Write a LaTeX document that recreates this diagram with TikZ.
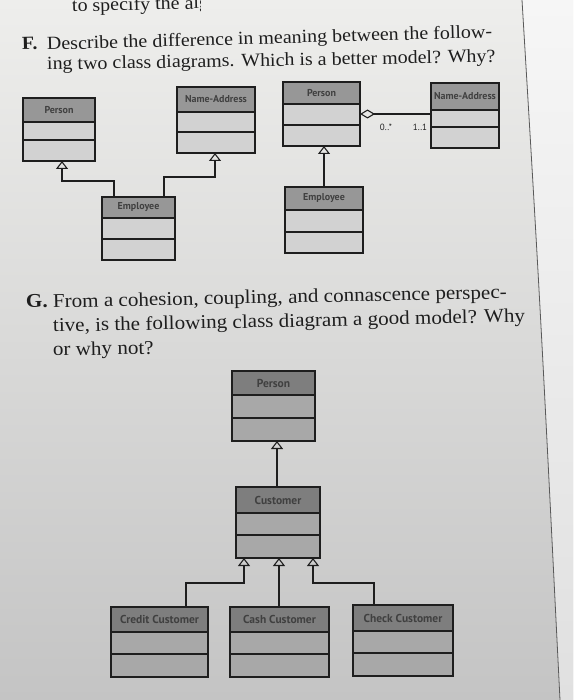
\documentclass[tikz,border=0pt]{standalone}
\usepackage{fontspec}
\setmainfont{Liberation Serif}[FakeStretch=1.08]
\newfontfamily\lblfont{PT Sans}
\usetikzlibrary{arrows.meta}
\definecolor{paperTop}{HTML}{EEEEEC}
\definecolor{paperBot}{HTML}{C4C4C4}
\definecolor{stripTop}{HTML}{F6F6F6}
\definecolor{stripBot}{HTML}{E0E0E0}
\definecolor{inkC}{HTML}{1E1E1E}
\definecolor{hdrF}{HTML}{979797}
\definecolor{bodyF}{HTML}{D2D2D2}
\definecolor{hdrG}{HTML}{7E7E7E}
\definecolor{bodyG}{HTML}{A8A8A8}
\tikzset{
  boxline/.style={draw=inkC, line width=1.3pt},
  classbox/.style={boxline, rectangle, inner sep=0pt, outer sep=0pt},
  clslabelF/.style={font=\lblfont\bfseries\fontsize{10}{11}\selectfont, text=inkC!85, inner sep=0pt},
  clslabelG/.style={font=\lblfont\bfseries\fontsize{11.5}{13}\selectfont, text=inkC!85, inner sep=0pt},
  multlabel/.style={font=\lblfont\fontsize{9}{10}\selectfont, text=inkC, inner sep=0pt},
  gen/.style={draw=inkC, line width=1.2pt, -{Triangle[open, length=8pt, width=12pt, line width=1.1pt]}},
  agg/.style={draw=inkC, line width=1.2pt, {Diamond[open, length=15pt, width=9pt, line width=1.1pt]}-},
  qtextF/.style={font=\fontsize{18.5}{22}\selectfont, text=inkC, inner sep=0pt, anchor=base west},
  qtextG/.style={font=\fontsize{19.5}{24}\selectfont, text=inkC, inner sep=0pt, anchor=base west},
}
% #1 name, #2 x1, #3 y1, #4 x2, #5 y2, #6 first divider, #7 second divider, #8 label, #9 colour set
\newcommand\umlbox[9]{%
  \fill[hdr#9] (#2,#3) rectangle (#4,#6);
  \fill[body#9] (#2,#6) rectangle (#4,#5);
  \draw[boxline] (#2,#6) -- (#4,#6) (#2,#7) -- (#4,#7);
  \node[classbox, minimum width={(#4-#2)*1pt}, minimum height={(#5-#3)*1pt}] (#1) at ({(#2+#4)/2},{(#3+#5)/2}) {};
  \node[clslabel#9] (#1-lbl) at ({(#2+#4)/2},{(#3+#6)/2}) {#8};
}
\begin{document}
\begin{tikzpicture}[x=1pt, y=-1pt]
\useasboundingbox (0,0) rectangle (573,700);
% paper
\shade[top color=paperTop, bottom color=paperBot] (0,0) rectangle (573,700);
\shade[top color=stripTop, bottom color=stripBot] (522,0) .. controls (540,300) .. (560,700) -- (573,700) -- (573,0) -- cycle;
\draw[gray!70!black, line width=0.8pt] (522,0) .. controls (540,300) .. (560,700);

% top cut line
\begin{scope}
\clip (60,0) rectangle (200,30);
\node[qtextF, rotate=1.5] (topline) at (72,12) {to specify the algorithm};
\end{scope}

% question F
\node[qtextF, rotate=1.5] (fmark) at (22,50) {\textbf{F.}};
\node[qtextF, rotate=1.6] (fline1) at (47,50) {Describe the difference in meaning between the follow-};
\node[qtextF, rotate=1] (fline2) at (47,70) {ing two class diagrams. Which is a better model? Why?};

% F left diagram
\umlbox{perL}{23}{98}{95}{161}{122}{140}{Person}{F}
\umlbox{naL}{177}{87}{255}{153}{112}{132}{Name-Address}{F}
\umlbox{empL}{102}{197}{175}{260}{218}{239}{Employee}{F}
\draw[gen] ([xshift=-24.5pt]empL.north) -- ++(0,-16) -| ([xshift=3pt]perL.south);
\draw[gen] ([xshift=25.5pt]empL.north) -- ++(0,-20) -| ([xshift=-1pt]naL.south);

% F right diagram
\umlbox{perR}{283}{82}{360}{146}{104}{125}{Person}{F}
\umlbox{naR}{431}{83}{499}{148}{110}{127}{Name-Address}{F}
\umlbox{empR}{285}{187}{363}{253}{210}{232}{Employee}{F}
\draw[agg] (perR.east) -- (perR.east -| naR.west);
\node[multlabel] (multA) at (386,127) {0..*};
\node[multlabel] (multB) at (420,127) {1..1};
\draw[gen] (empR.north) -- (empR.north |- perR.south);

% question G
\node[qtextG, rotate=1.2] (gmark) at (26,308) {\textbf{G.}};
\node[qtextG, rotate=1.2] (gline1) at (53,308) {From a cohesion, coupling, and connascence perspec-};
\node[qtextG, rotate=1.2] (gline2) at (53,332) {tive, is the following class diagram a good model? Why};
\node[qtextG, rotate=1.2] (gline3) at (53,356) {or why not?};

% G diagram
\umlbox{perG}{232}{371}{315}{441}{395}{418}{Person}{G}
\umlbox{custG}{236}{487}{320}{558}{513}{535}{Customer}{G}
\umlbox{credit}{111}{607}{208}{677}{632}{654}{Credit Customer}{G}
\umlbox{cash}{230}{607}{329}{677}{632}{654}{Cash Customer}{G}
\umlbox{check}{353}{605}{453}{676}{631}{653}{Check Customer}{G}
\draw[gen] ([xshift=-1pt]custG.north) -- ([xshift=-1pt]custG.north |- perG.south);
\draw[gen] ([xshift=26.5pt]credit.north) -- ++(0,-24) -| ([xshift=-34pt]custG.south);
\draw[gen] ([xshift=-0.5pt]cash.north) -- ([xshift=-0.5pt]cash.north |- custG.south);
\draw[gen] ([xshift=-29pt]check.north) -- ++(0,-22) -| ([xshift=35pt]custG.south);
\end{tikzpicture}
\end{document}
